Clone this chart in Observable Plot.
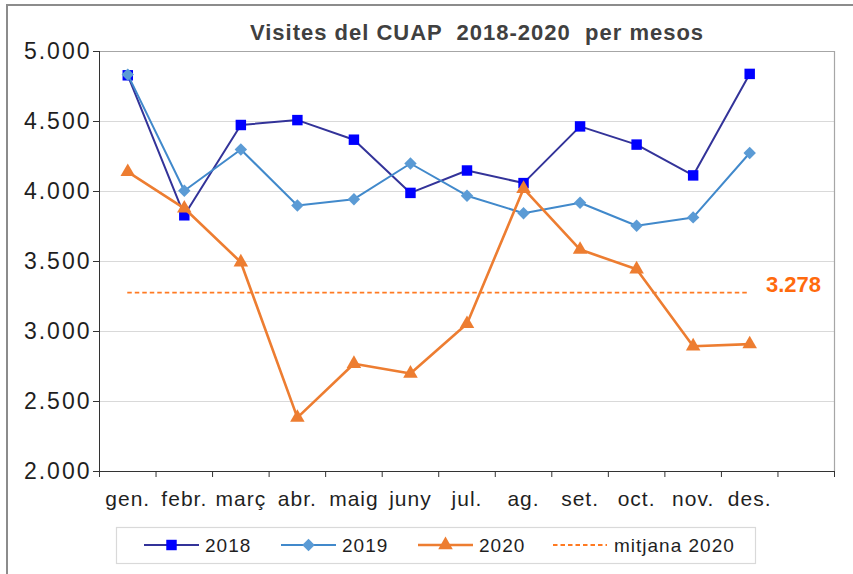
<!DOCTYPE html>
<html>
<head>
<meta charset="utf-8">
<script src="https://cdn.jsdelivr.net/npm/d3@7"></script>
<script src="https://cdn.jsdelivr.net/npm/@observablehq/plot@0.6"></script>
<style>
  html, body { margin: 0; padding: 0; background: #fff; }
  #wrap { position: relative; width: 853px; height: 574px; overflow: hidden; background: #fff; font-family: "Liberation Sans", Arial, sans-serif; }
  #frame { position: absolute; left: 6px; top: 4px; width: 900px; height: 700px; border-top: 2px solid #8c8c8c; border-left: 2px solid #8c8c8c; }
  #title { position: absolute; left: 0; top: 22px; width: 954px; text-align: center; font-weight: bold; font-size: 22px; line-height: 22px; color: #404040; letter-spacing: 1px; white-space: pre; }
  #chart, #legend { position: absolute; left: 0; top: 0; }
</style>
</head>
<body>
<div id="wrap">
  <div id="frame"></div>
  <div id="title">Visites del CUAP  2018-2020  per mesos</div>
  <div id="chart"></div>
  <svg id="legend" width="853" height="574"></svg>
</div>
<script>
const months = ["gen.", "febr.", "març", "abr.", "maig", "juny", "jul.", "ag.", "set.", "oct.", "nov.", "des."];
const v2018 = [4830, 3830, 4475, 4510, 4370, 3990, 4150, 4060, 4465, 4335, 4115, 4840];
const v2019 = [4835, 4005, 4300, 3900, 3945, 4200, 3970, 3845, 3920, 3755, 3815, 4275];
const v2020 = [4140, 3880, 3495, 2385, 2770, 2700, 3055, 4020, 3585, 3445, 2895, 2910];
const mean2020 = 3278;
const yTicks = [2000, 2500, 3000, 3500, 4000, 4500, 5000];
const seriesNames = ["2018", "2019", "2020", "mitjana 2020"];

const fmt = d3.formatLocale({decimal: ",", thousands: ".", grouping: [3], currency: ["", " €"]}).format(",.0f");
const pos = m => months.indexOf(m) + 0.5;
const rows = (vals) => months.map((m, i) => ({month: m, pos: pos(m), value: vals[i]}));
const d2018 = rows(v2018), d2019 = rows(v2019), d2020 = rows(v2020);

const styles = {
  "2018": {line: "#333399", fill: "#0000FF", symbol: "square", r: 5.9, sw: 2},
  "2019": {line: "#4189CB", fill: "#5B9BD5", symbol: "diamond2", r: 5.6, sw: 2},
  "2020": {line: "#ED7D31", fill: "#ED7D31", symbol: "triangle", r: 5.4, sw: 2.6}
};
const meanColor = "#FF7A22";

const chart = Plot.plot({
  width: 853,
  height: 574,
  marginTop: 51,
  marginBottom: 103,
  marginLeft: 99,
  marginRight: 19,
  style: {fontFamily: "'Liberation Sans', Arial, sans-serif", fontSize: "21px", background: "transparent", overflow: "visible"},
  x: {type: "linear", domain: [0, months.length + 1], axis: null, label: null},
  y: {domain: [yTicks[0], yTicks[yTicks.length - 1]], axis: null, label: null},
  marks: [
    Plot.gridY(yTicks.slice(1, -1), {stroke: "#d9d9d9", strokeOpacity: 1, strokeWidth: 1.2}),
    Plot.ruleY([yTicks[yTicks.length - 1]], {stroke: "#a6a6a6", strokeWidth: 1.2}),
    Plot.ruleX([months.length + 1], {stroke: "#a6a6a6", strokeWidth: 1.2}),
    Plot.ruleX([0], {stroke: "#333"}),
    Plot.ruleY([yTicks[0]], {stroke: "#333"}),
    Plot.axisY({ticks: yTicks, label: null, tickSize: 6, tickPadding: 2, tickFormat: fmt, fontSize: 23, stroke: "#333", fill: "#1f1f1f"}),
    Plot.axisX({ticks: d3.range(0, months.length + 2), label: null, tickSize: 6, tickFormat: () => "", stroke: "#333"}),
    Plot.axisX({ticks: months.map(pos), label: null, tickSize: 0, tickPadding: 20, fontSize: 21, fill: "#1f1f1f",
      tickFormat: v => months[Math.round(v - 0.5)]}),
    Plot.ruleY([mean2020], {x1: pos(months[0]), x2: pos(months[months.length - 1]), stroke: meanColor, strokeWidth: 1.8, strokeDasharray: "4.5,3"}),
    Plot.text([mean2020], {x: months.length, y: d => d, text: d => fmt(d), textAnchor: "start", dx: -12, dy: -8,
      fill: "#FF6A0D", fontWeight: "bold", fontSize: 22}),
    Plot.line(d2018, {x: "pos", y: "value", stroke: styles["2018"].line, strokeWidth: styles["2018"].sw}),
    Plot.dot(d2018, {x: "pos", y: "value", symbol: styles["2018"].symbol, r: styles["2018"].r, fill: styles["2018"].fill}),
    Plot.line(d2019, {x: "pos", y: "value", stroke: styles["2019"].line, strokeWidth: styles["2019"].sw}),
    Plot.dot(d2019, {x: "pos", y: "value", symbol: styles["2019"].symbol, r: styles["2019"].r, fill: styles["2019"].fill}),
    Plot.line(d2020, {x: "pos", y: "value", stroke: styles["2020"].line, strokeWidth: styles["2020"].sw}),
    Plot.dot(d2020, {x: "pos", y: "value", symbol: styles["2020"].symbol, r: styles["2020"].r, fill: styles["2020"].fill})
  ]
});
document.getElementById("chart").appendChild(chart);
d3.select(chart).selectAll('g[aria-label="y-axis tick label"]').attr("letter-spacing", "2");
d3.select(chart).selectAll('g[aria-label="x-axis tick label"]').attr("letter-spacing", "1");

// Legend
const lg = d3.select("#legend");
lg.append("rect").attr("x", 116.5).attr("y", 527.5).attr("width", 639).attr("height", 36)
  .attr("fill", "#fff").attr("stroke", "#d9d9d9").attr("stroke-width", 1.2);
const starts = [144, 281, 418, 553];
const symMap = {square: d3.symbolSquare, diamond2: d3.symbolDiamond2, triangle: d3.symbolTriangle};
seriesNames.forEach((name, i) => {
  const x0 = starts[i], cy = 545;
  const g = lg.append("g");
  if (styles[name]) {
    const s = styles[name];
    g.append("line").attr("x1", x0).attr("x2", x0 + 55).attr("y1", cy).attr("y2", cy)
      .attr("stroke", s.line).attr("stroke-width", s.sw);
    g.append("path").attr("transform", `translate(${x0 + 27.5},${cy})`)
      .attr("d", d3.symbol(symMap[s.symbol], Math.PI * s.r * s.r)()).attr("fill", s.fill);
  } else {
    g.append("line").attr("x1", x0).attr("x2", x0 + 54).attr("y1", cy).attr("y2", cy)
      .attr("stroke", meanColor).attr("stroke-width", 1.8).attr("stroke-dasharray", "4.5,3");
  }
  g.append("text").attr("x", x0 + 61).attr("y", 552).attr("font-size", 19).attr("letter-spacing", 1)
    .attr("fill", "#1f1f1f").attr("font-family", "'Liberation Sans', Arial, sans-serif").text(name);
});
</script>
</body>
</html>
